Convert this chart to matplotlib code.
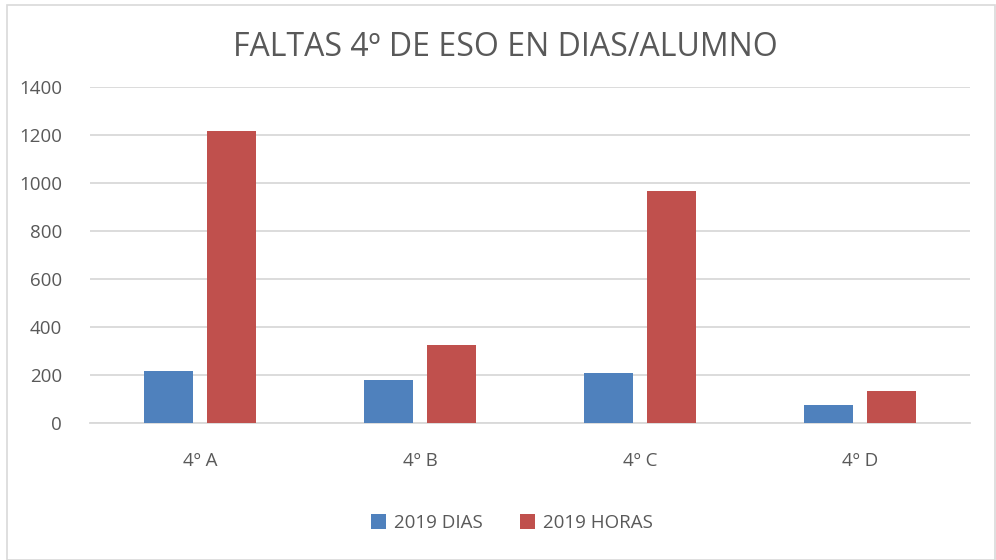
import matplotlib
matplotlib.use("Agg")
import matplotlib.pyplot as plt
import numpy as np
from matplotlib.patches import Rectangle

categories = ["4º A", "4º B", "4º C", "4º D"]
dias = [215, 179, 208, 76]
horas = [1218, 326, 965, 135]
series_names = ["2019 DIAS", "2019 HORAS"]
yticks = [0, 200, 400, 600, 800, 1000, 1200, 1400]

plt.rcParams['font.family'] = ['Open Sans', 'DejaVu Sans']
txt = '#595959'

fig = plt.figure(figsize=(9.96, 5.6), dpi=100)
fig.patches.append(Rectangle((7/996, 0), 988/996, 555/560, transform=fig.transFigure,
                             fill=False, edgecolor='#d9d9d9', linewidth=1.2))
ax = fig.add_axes([90/996, 1-423/560, 880/996, 336/560])

x = np.arange(len(categories))
w = 0.223
off = 0.1435
ax.bar(x - off, dias, w, color='#4F81BD', label=series_names[0], zorder=3)
ax.bar(x + off, horas, w, color='#C0504D', label=series_names[1], zorder=3)

ax.set_xlim(-0.5, len(categories) - 0.5)
ax.set_ylim(0, 1400)
ax.set_yticks(yticks)
ax.set_yticklabels([str(v) for v in yticks], fontsize=13.5, color=txt)
ax.set_xticks(x)
ax.set_xticklabels(categories, fontsize=13.5, color=txt)
ax.tick_params(axis='both', length=0)
ax.tick_params(axis='y', pad=20)
ax.tick_params(axis='x', pad=21)
ax.grid(axis='y', color='#d9d9d9', linewidth=1.3, zorder=0)
for s in ['left', 'right', 'top']:
    ax.spines[s].set_visible(False)
ax.spines['bottom'].set_color('#d9d9d9')
ax.spines['bottom'].set_linewidth(1.3)

fig.text(505/996, 1-48/560, "FALTAS 4º DE ESO EN DIAS/ALUMNO", ha='center', va='center',
         fontsize=23, color=txt)

fig.legend(loc='center', bbox_to_anchor=(512/996, 1-523/560), ncol=2, frameon=False,
           fontsize=13.5, labelcolor=txt, handlelength=0.8, handleheight=0.8,
           columnspacing=2.0, handletextpad=0.4)

fig.savefig("out.png", dpi=100)
